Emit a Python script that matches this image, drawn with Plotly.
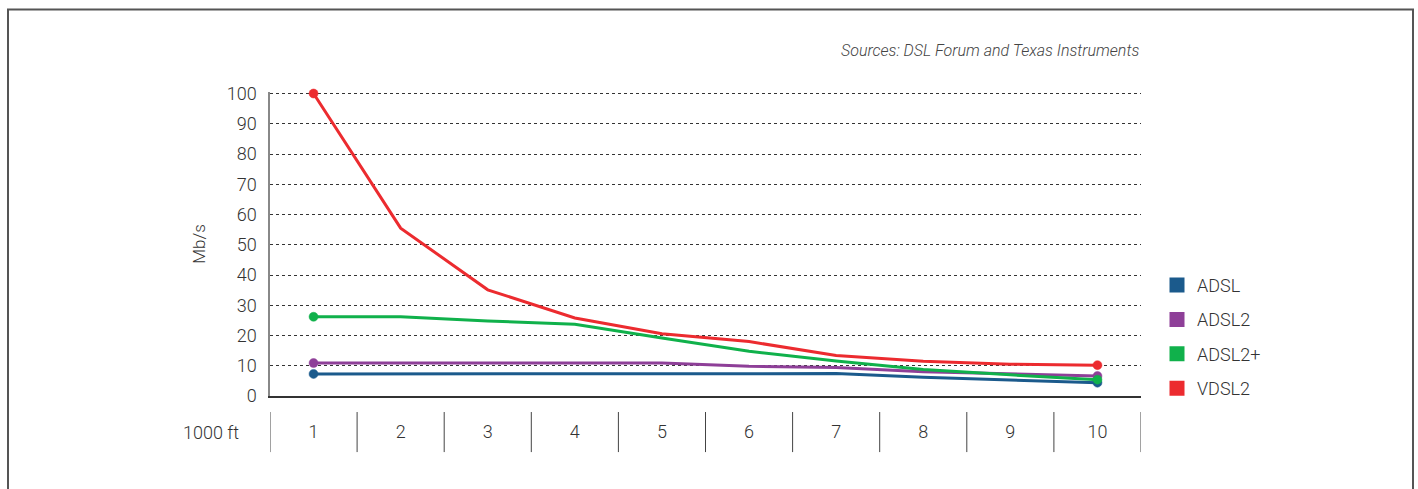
import plotly.graph_objects as go

distance = ["1", "2", "3", "4", "5", "6", "7", "8", "9", "10"]
adsl = [7.3, 7.3, 7.3, 7.3, 7.3, 7.3, 7.4, 6.2, 5.3, 4.4]
adsl2 = [10.9, 10.9, 10.9, 10.9, 10.9, 9.8, 9.4, 8.0, 7.3, 6.6]
adsl2p = [26.2, 26.2, 24.8, 23.7, 19.2, 14.8, 11.6, 8.8, 7.0, 5.4]
vdsl2 = [100, 55.5, 35.1, 25.8, 20.6, 18.0, 13.4, 11.5, 10.5, 10.2]
y_ticks = [0, 10, 20, 30, 40, 50, 60, 70, 80, 90, 100]

series = [
    ("ADSL", adsl, "#1B5A8C"),
    ("ADSL2", adsl2, "#8E3F98"),
    ("ADSL2+", adsl2p, "#10B14B"),
    ("VDSL2", vdsl2, "#EC2B2F"),
]

FONT = "Roboto"
TXT = "#333333"

L, T = 270, 94
PW, PH = 871, 302
W, H = 1418, 489
YMAX = 100.5
PH_full = PH * YMAX / 100.0
T_adj = T - (PH_full - PH)

fig = go.Figure()
n = len(distance)
for name, vals, col in series:
    fig.add_trace(go.Scatter(
        x=distance, y=vals, mode="lines", name=name,
        line=dict(color=col, width=3),
        showlegend=False, cliponaxis=False, hoverinfo="x+y+name",
    ))
    # end-point dots taken from the same series
    fig.add_trace(go.Scatter(
        x=[distance[0], distance[-1]], y=[vals[0], vals[-1]], mode="markers",
        name=name, marker=dict(color=col, size=9, opacity=1,
                               line=dict(color=col, width=0.5)),
        showlegend=False, cliponaxis=False, hoverinfo="x+y+name",
    ))
for i, (name, vals, col) in enumerate(series):
    fig.add_trace(go.Scatter(
        x=[None], y=[None], mode="markers", name=name,
        marker=dict(color=col, size=15, symbol="square"),
        legendgroup=name, showlegend=True,
    ))

def py(pix):
    return (396 - pix) / PH_full

def px(pix):
    return (pix - 270) / PW

shapes = [dict(type="rect", xref="paper", yref="paper",
               x0=px(8), x1=px(1413), y0=-1.0, y1=py(10),
               line=dict(color="#555555", width=2), fillcolor="rgba(0,0,0,0)")]
for i in range(n + 1):
    shapes.append(dict(type="line", xref="x", yref="paper",
                       x0=i - 0.5, x1=i - 0.5, y0=py(412), y1=py(452),
                       line=dict(color="#444444", width=1)))

fig.update_layout(
    width=W, height=H,
    margin=dict(l=L, r=W - L - PW, t=T_adj, b=H - T_adj - PH_full),
    paper_bgcolor="white", plot_bgcolor="white",
    font=dict(family=FONT, color=TXT, size=18),
    shapes=shapes,
    legend=dict(x=px(1157), xanchor="left", y=py(267), yanchor="top",
                font=dict(size=18, color=TXT, family=FONT, weight=300),
                tracegroupgap=8, bgcolor="rgba(0,0,0,0)"),
    annotations=[
        dict(text="Sources: DSL Forum and Texas Instruments", xref="paper", yref="paper",
             x=px(1141), y=py(51), xanchor="right", yanchor="middle", showarrow=False,
             font=dict(size=16, color="#444444", family=FONT, style="italic", weight=300)),
        dict(text="1000 ft", xref="paper", yref="paper",
             x=px(241), y=py(432), xanchor="right", yanchor="middle",
             showarrow=False, font=dict(size=18, color=TXT, family=FONT, weight=300)),
    ],
)
fig.update_xaxes(
    type="category", range=[-0.5, n - 0.5],
    showgrid=False, zeroline=False,
    showline=True, linecolor="#333333", linewidth=1.5,
    ticks="", ticklabelstandoff=19,
    tickfont=dict(size=18, color=TXT, family=FONT, weight=300),
)
fig.update_yaxes(
    range=[0, YMAX], tickvals=y_ticks,
    showgrid=True, gridcolor="#333333", griddash="dot", gridwidth=1,
    zeroline=False, showline=True, linecolor="#888888", linewidth=1.5,
    ticks="", ticklabelstandoff=8,
    tickfont=dict(size=18, color=TXT, family=FONT, weight=300),
    title=dict(text="Mb/s", standoff=17,
               font=dict(size=17, color=TXT, family=FONT, weight=300)),
)

fig.write_html(
    "out.html",
    config={"displayModeBar": False},
    post_script="document.body.style.margin='0px';document.body.style.overflow='hidden';",
)
